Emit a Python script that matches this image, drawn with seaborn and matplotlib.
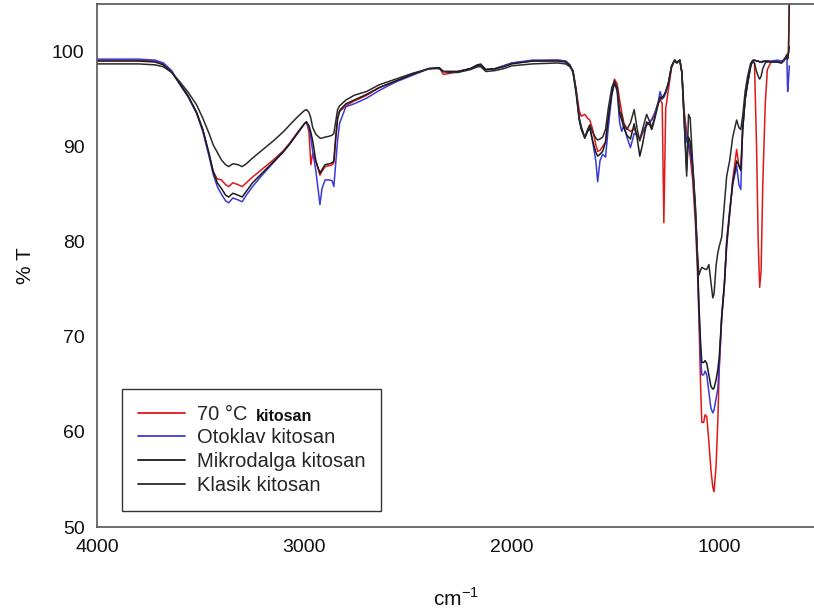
import matplotlib
matplotlib.use("Agg")
import matplotlib.pyplot as plt
import seaborn as sns
import numpy as np
import pandas as pd

# ---- data ----
wavenumber = [4000, 3900, 3800, 3720, 3680, 3640, 3600, 3560, 3520, 3490, 3460, 3440, 3420, 3400,
              3380, 3365, 3345, 3320, 3300, 3280, 3250, 3200, 3150, 3100, 3070, 3030, 3000, 2990,
              2978, 2969, 2960, 2945, 2925, 2915, 2900, 2880, 2866, 2858, 2850, 2840, 2830, 2800,
              2760, 2700, 2640, 2560, 2480, 2400, 2350, 2330, 2300, 2260, 2200, 2165, 2150, 2125,
              2080, 2040, 2000, 1900, 1780, 1740, 1720, 1705, 1690, 1675, 1665, 1648, 1635, 1624,
              1610, 1595, 1586, 1575, 1562, 1548, 1535, 1518, 1505, 1492, 1480, 1470, 1460, 1445,
              1428, 1410, 1395, 1383, 1370, 1350, 1335, 1325, 1310, 1295, 1285, 1275, 1267, 1258,
              1245, 1230, 1215, 1205, 1190, 1180, 1170, 1157, 1148, 1140, 1128, 1115, 1105, 1098,
              1090, 1084, 1075, 1068, 1060, 1050, 1040, 1031, 1025, 1015, 1007, 1000, 988, 975,
              964, 949, 935, 916, 905, 896, 887, 875, 863, 848, 839, 830, 820, 812, 805, 798,
              790, 778, 768, 750, 720, 700, 690, 680, 674, 670, 666, 662]

t_70c = [99.1, 99.1, 99.1, 99.0, 98.7, 97.9, 96.6, 95.3, 93.6, 91.8, 89.2, 87.4, 86.6, 86.5,
         86.0, 85.8, 86.2, 86.0, 85.8, 86.2, 86.8, 87.7, 88.6, 89.6, 90.4, 91.6, 92.4, 92.6,
         91.5, 88.1, 89.3, 88.5, 87.0, 87.4, 87.9, 88.0, 88.1, 88.3, 90.5, 93.0, 93.7, 94.3,
         94.8, 95.4, 96.2, 96.9, 97.6, 98.2, 98.3, 97.6, 97.7, 97.9, 98.2, 98.5, 98.6, 98.1,
         98.2, 98.5, 98.8, 99.0, 99.1, 99.0, 98.6, 97.9, 96.0, 93.8, 93.2, 93.4, 93.0, 92.8,
         91.8, 90.2, 89.5, 89.6, 90.0, 90.5, 93.0, 95.8, 97.1, 96.6, 94.9, 93.6, 92.5, 91.9,
         91.6, 91.9, 91.2, 90.7, 91.4, 92.2, 92.6, 92.9, 93.6, 94.5, 95.0, 94.5, 82.0, 94.0,
         96.0, 98.3, 99.1, 98.9, 99.1, 97.8, 94.0, 91.5, 90.5, 89.0, 86.5, 82.0, 77.0, 72.0,
         65.0, 61.0, 61.0, 61.8, 61.6, 59.0, 56.0, 54.2, 53.7, 56.5, 61.0, 66.5, 72.0, 75.5,
         79.5, 83.0, 86.5, 89.7, 88.0, 87.5, 91.8, 95.0, 96.7, 98.5, 99.0, 98.8, 90.0, 80.0, 75.2, 77.0,
         86.0, 94.5, 98.1, 98.9, 99.0, 98.9, 99.1, 99.4, 99.7, 99.5, 100.0, 105.5]

t_otoklav = [99.2, 99.2, 99.2, 99.1, 98.8, 98.0, 96.5, 95.2, 93.5, 91.6, 89.0, 87.1, 85.8, 85.0,
             84.3, 84.1, 84.6, 84.4, 84.2, 84.9, 85.8, 87.1, 88.3, 89.5, 90.3, 91.5, 92.4, 92.6,
             92.0, 90.9, 89.5, 87.5, 83.9, 85.6, 86.5, 86.5, 86.4, 85.8, 88.0, 90.7, 92.5, 94.2,
             94.5, 95.1, 95.9, 96.8, 97.5, 98.2, 98.3, 97.9, 97.9, 97.9, 98.2, 98.6, 98.7, 98.1,
             98.2, 98.5, 98.8, 99.1, 99.1, 99.0, 98.6, 97.9, 95.8, 93.0, 92.0, 91.0, 91.6, 92.0,
             90.5, 88.5, 86.3, 88.5, 89.2, 88.9, 92.0, 95.4, 96.7, 95.8, 92.5, 91.6, 92.2, 91.0,
             89.9, 91.4, 91.2, 90.8, 91.6, 92.3, 92.6, 92.8, 93.5, 94.6, 95.8, 95.0, 95.2, 95.6,
             96.6, 98.4, 99.1, 98.8, 99.1, 97.8, 93.5, 90.5, 90.3, 89.5, 87.5, 83.0, 78.0, 73.0,
             68.0, 66.0, 66.0, 66.4, 66.0, 64.2, 62.5, 62.0, 62.3, 63.5, 64.5, 67.0, 72.0, 75.5,
             80.2, 83.4, 86.0, 88.0, 86.0, 85.5, 91.8, 95.0, 96.7, 98.5, 99.1, 99.1, 99.0, 99.0, 98.9, 98.9,
             99.0, 99.0, 99.0, 99.0, 99.1, 99.0, 99.1, 99.4, 99.6, 95.8, 97.0, 98.5]

t_mikrodalga = [99.0, 99.0, 99.0, 98.9, 98.6, 97.8, 96.6, 95.3, 93.6, 91.8, 89.3, 87.4, 86.2, 85.6,
                84.9, 84.7, 85.1, 84.9, 84.7, 85.3, 86.2, 87.3, 88.4, 89.5, 90.3, 91.5, 92.4, 92.6,
                92.2, 91.5, 90.6, 88.5, 87.2, 87.6, 88.1, 88.2, 88.3, 88.5, 90.8, 93.0, 93.8, 94.5,
                94.9, 95.5, 96.2, 96.9, 97.6, 98.2, 98.3, 97.9, 97.9, 97.9, 98.2, 98.6, 98.6, 98.1,
                98.2, 98.4, 98.7, 99.0, 99.0, 98.9, 98.5, 97.8, 95.6, 92.8, 91.8, 90.9, 91.6, 92.0,
                90.6, 89.4, 89.0, 89.2, 89.5, 90.5, 93.0, 95.6, 96.8, 96.0, 93.5, 92.8, 92.0, 91.2,
                90.8, 92.4, 90.8, 89.0, 90.2, 92.6, 92.3, 91.8, 93.0, 94.4, 95.2, 95.2, 95.4, 95.8,
                96.7, 98.4, 99.1, 98.8, 99.1, 97.8, 93.4, 87.5, 91.0, 90.5, 88.0, 83.5, 78.5, 73.5,
                69.5, 67.3, 67.3, 67.5, 67.2, 66.0, 64.8, 64.5, 64.6, 65.5, 66.5, 67.8, 72.2, 75.6,
                79.8, 83.2, 86.2, 88.5, 88.0, 87.5, 91.8, 95.0, 96.7, 98.5, 99.0, 99.1, 99.0, 99.0, 98.9, 98.9,
                98.9, 99.0, 99.0, 98.9, 98.9, 98.8, 99.0, 99.3, 99.6, 99.3, 99.8, 100.5]

t_klasik = [98.7, 98.7, 98.7, 98.6, 98.4, 97.8, 96.8, 95.7, 94.4, 93.0, 91.4, 90.2, 89.4, 88.6,
            88.1, 87.9, 88.2, 88.1, 87.9, 88.2, 88.8, 89.7, 90.6, 91.6, 92.3, 93.2, 93.8, 93.9,
            93.6, 93.0, 92.0, 91.3, 90.9, 90.9, 91.0, 91.1, 91.2, 91.4, 92.5, 93.9, 94.3, 94.9,
            95.4, 95.8, 96.5, 97.1, 97.7, 98.2, 98.2, 97.9, 97.8, 97.8, 98.1, 98.4, 98.4, 97.9,
            98.0, 98.2, 98.5, 98.7, 98.8, 98.7, 98.4, 98.0, 96.0, 93.0, 92.1, 90.9, 91.8, 92.3,
            91.5, 90.9, 90.7, 90.8, 91.0, 91.8, 94.0, 96.2, 96.9, 96.2, 93.7, 93.3, 92.3, 91.8,
            92.5, 93.9, 91.8, 90.6, 91.8, 93.4, 92.6, 92.0, 93.2, 94.6, 95.0, 95.1, 95.3, 95.8,
            96.7, 98.5, 99.1, 98.8, 99.1, 97.8, 93.2, 86.9, 93.4, 93.0, 88.3, 83.8, 78.8, 76.5,
            77.0, 77.3, 77.2, 77.1, 77.1, 77.6, 75.8, 74.1, 74.5, 77.5, 78.8, 79.5, 80.5, 84.0,
            86.9, 88.6, 91.0, 92.8, 92.0, 91.8, 93.2, 95.8, 97.4, 98.8, 99.0, 98.8, 97.9, 97.4, 97.1, 97.4,
            98.2, 98.8, 98.9, 98.9, 98.9, 98.8, 99.0, 99.3, 99.5, 99.2, 100.0, 105.0]

series_labels = ["70 °C", "Otoklav kitosan", "Mikrodalga kitosan", "Klasik kitosan"]
series_values = [t_70c, t_otoklav, t_mikrodalga, t_klasik]
series_colors = ["#e01818", "#3a3ad6", "#1a1a1a", "#2a2a2a"]

x_ticks = [4000, 3000, 2000, 1000]
y_ticks = [50, 60, 70, 80, 90, 100]

# ---- style ----
sns.set_theme(style="white")
plt.rcParams["font.family"] = ["Liberation Sans", "DejaVu Sans"]
plt.rcParams["mathtext.fontset"] = "custom"
plt.rcParams["mathtext.rm"] = "Liberation Sans"

fig = plt.figure(figsize=(8.14, 6.10), dpi=100)
ax = fig.add_axes([97 / 814, 83 / 610, 717 / 814, 523 / 610])

for lab, vals, col in zip(series_labels, series_values, series_colors):
    sns.lineplot(x=wavenumber, y=vals, color=col, linewidth=1.1, sort=False,
                 estimator=None, ax=ax, label=lab)

ax.set_xlim(4000, 543)
ax.set_ylim(50, 105)
ax.set_xticks(x_ticks)
ax.set_yticks(y_ticks)
ax.tick_params(direction="in", length=6, width=1, color="#333333",
               labelsize=14, labelcolor="#111111", pad=9)

for side in ["left", "bottom", "top"]:
    ax.spines[side].set_visible(True)
    ax.spines[side].set_color("#555555")
    ax.spines[side].set_linewidth(1.2)
ax.spines["right"].set_visible(False)

ax.set_xlabel(r"cm$^{\mathregular{-1}}$", fontsize=15, labelpad=22, color="#111111")
ax.set_ylabel("% T", fontsize=15, labelpad=12, color="#111111")

leg = ax.legend(loc="lower left", bbox_to_anchor=(0.035, 0.031), fontsize=14.5,
                frameon=True, fancybox=False, edgecolor="#333333", framealpha=1,
                handlelength=2.3, handletextpad=0.6, labelspacing=0.23,
                borderpad=0.8, borderaxespad=0)
leg.get_frame().set_linewidth(1.0)
for line in leg.get_lines():
    line.set_linewidth(1.3)

first_text = leg.get_texts()[0]
ax.annotate("kitosan", xy=(1, 0), xycoords=first_text, xytext=(6, 0),
            textcoords="offset points", fontsize=11.5, fontweight="bold",
            color="#111111", va="bottom", ha="left", zorder=10)

fig.canvas.draw()
fig.savefig("out.png", dpi=100)
